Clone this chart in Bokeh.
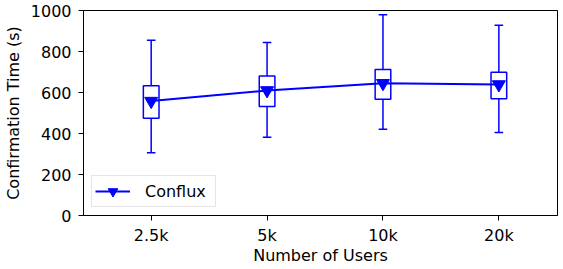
from bokeh.plotting import figure
from bokeh.models import Range1d, FixedTicker, Legend, LegendItem, ColumnDataSource
from bokeh.embed import file_html
from bokeh.resources import INLINE

categories = ["2.5k", "5k", "10k", "20k"]
whisker_low = [306, 382, 421, 405]
q1 = [475, 532, 567, 569]
q3 = [633, 680, 712, 699]
whisker_high = [855, 844, 979, 928]
mean_vals = [558, 610, 645, 639]
y_ticks = [0, 200, 400, 600, 800, 1000]

xs = list(range(len(categories)))
BLUE = "#0000ff"
FONT = "DejaVu Sans"
X0, X1 = -0.584, 3.506

src = ColumnDataSource(dict(
    x=xs, lo=whisker_low, q1=q1, q3=q3, hi=whisker_high, mean=mean_vals,
    mid=[(a + b) / 2 for a, b in zip(q1, q3)],
    h=[b - a for a, b in zip(q1, q3)],
    cl=[x - 0.037 for x in xs], cr=[x + 0.037 for x in xs],
))

p = figure(width=563, height=269, output_backend="svg", toolbar_location=None,
           x_range=Range1d(X0, X1), y_range=Range1d(0, 1000),
           min_border_left=83, min_border_right=6, min_border_top=10, min_border_bottom=54)
p.xgrid.visible = False
p.ygrid.visible = False
p.outline_line_color = "black"
p.outline_line_width = 1
p.background_fill_color = "white"
p.border_fill_color = "white"

# whiskers
p.segment(x0="x", y0="q3", x1="x", y1="hi", source=src, line_color=BLUE, line_width=1.5)
p.segment(x0="x", y0="lo", x1="x", y1="q1", source=src, line_color=BLUE, line_width=1.5)
p.segment(x0="cl", y0="hi", x1="cr", y1="hi", source=src, line_color=BLUE, line_width=1.5)
p.segment(x0="cl", y0="lo", x1="cr", y1="lo", source=src, line_color=BLUE, line_width=1.5)
# boxes
p.rect(x="x", y="mid", width=0.135, height="h", source=src, fill_color=None,
       line_color=BLUE, line_width=1.5)
# mean line + markers
ln = p.line(x="x", y="mean", source=src, line_color=BLUE, line_width=2)
mk = p.scatter(x="x", y="mean", source=src, marker="inverted_triangle", size=13,
               fill_color=BLUE, line_color=BLUE)

legend = Legend(items=[LegendItem(label="Conflux", renderers=[ln, mk])],
                location="bottom_left")
legend.margin = 8
legend.padding = 3
legend.spacing = 0
legend.glyph_width = 35
legend.glyph_height = 24
legend.label_height = 24
legend.label_width = 67
legend.label_standoff = 15
legend.label_text_font = FONT
legend.label_text_font_size = "16px"
legend.label_text_color = "black"
legend.border_line_color = "#cccccc"
legend.border_line_width = 1
legend.background_fill_alpha = 0.8
p.add_layout(legend)

for ax in (p.xaxis[0], p.yaxis[0]):
    ax.axis_line_color = "black"
    ax.major_tick_line_color = "black"
    ax.major_tick_out = 5
    ax.major_tick_in = 0
    ax.minor_tick_line_color = None
    ax.major_label_text_font = FONT
    ax.major_label_text_font_size = "16px"
    ax.major_label_text_color = "black"
    ax.axis_label_text_font = FONT
    ax.axis_label_text_font_size = "16px"
    ax.axis_label_text_font_style = "normal"
    ax.axis_label_text_color = "black"

p.xaxis.ticker = FixedTicker(ticks=xs)
p.xaxis.major_label_overrides = {i: c for i, c in zip(xs, categories)}
p.xaxis.axis_label = "Number of Users"
p.xaxis.major_label_standoff = 5
p.xaxis.axis_label_standoff = -2
p.yaxis.ticker = FixedTicker(ticks=y_ticks)
p.yaxis.axis_label = "Confirmation Time (s)"
p.yaxis.major_label_standoff = 7
p.yaxis.axis_label_standoff = 5

open("out.html", "w").write(file_html(p, INLINE))
